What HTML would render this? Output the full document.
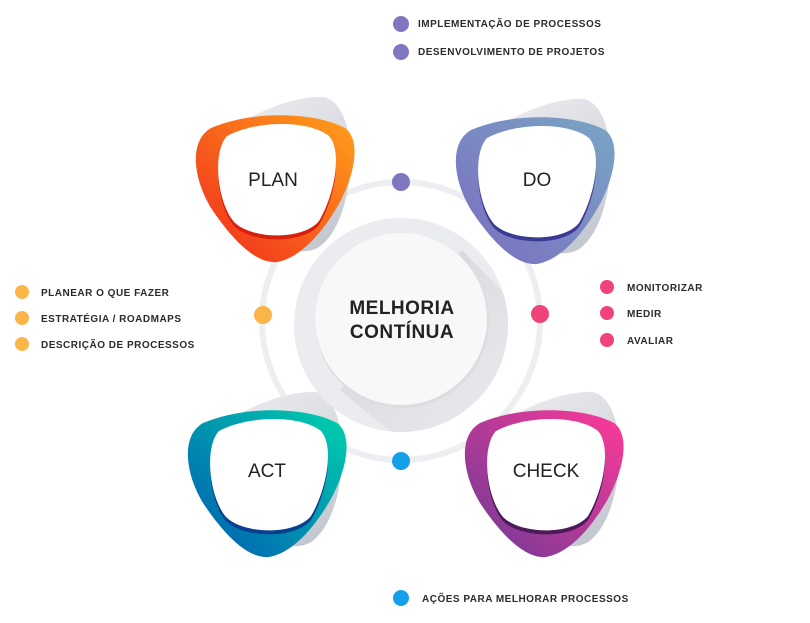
<!DOCTYPE html>
<html><head><meta charset="utf-8"><style>
html,body{margin:0;padding:0;background:#fff;}
svg text{font-family:"Liberation Sans",Arial,sans-serif;}
.l{font-size:10px;font-weight:bold;fill:#2b2b2b;letter-spacing:0.5px;}
.t{font-size:19px;fill:#222;}
</style></head><body>
<svg width="810" height="618" viewBox="0 0 810 618" xmlns="http://www.w3.org/2000/svg">
<defs>
<path id="blob" d="M18,18 C60,0 122,2 152,18 C168,30 162,62 148,90 C132,120 108,148 84,152 C62,154 38,128 18,98 C2,72 -6,32 18,18 Z"/>
<path id="inner" d="M14,14 C44,-2 96,-2 116,14 C130,30 121,74 106,99 C91,118 39,118 21,100 C4,80 -1,30 14,14 Z"/>
<linearGradient id="gPlan" x1="1" y1="0" x2="0" y2="1"><stop offset="0" stop-color="#ffa11a"/><stop offset="1" stop-color="#f0281c"/></linearGradient>
<linearGradient id="gDo" x1="1" y1="0" x2="0" y2="1"><stop offset="0" stop-color="#79a6c4"/><stop offset="1" stop-color="#7a6cc0"/></linearGradient>
<linearGradient id="gAct" x1="1" y1="0" x2="0" y2="1"><stop offset="0" stop-color="#00d2ae"/><stop offset="1" stop-color="#0057b0"/></linearGradient>
<linearGradient id="gCheck" x1="1" y1="0" x2="0" y2="1"><stop offset="0" stop-color="#ff3a98"/><stop offset="1" stop-color="#6a3a96"/></linearGradient>
<linearGradient id="gGray" x1="0" y1="0" x2="0" y2="1"><stop offset="0" stop-color="#e6e7eb"/><stop offset="1" stop-color="#c3c7d0"/></linearGradient>
<linearGradient id="gLong" x1="0" y1="0" x2="1" y2="1"><stop offset="0" stop-color="#c4c5c8"/><stop offset="1" stop-color="#ebecef" stop-opacity="0"/></linearGradient>
<clipPath id="disk"><circle cx="401" cy="325" r="107"/></clipPath>
</defs>

<circle cx="401" cy="321" r="139" fill="none" stroke="#eceef1" stroke-width="6"/>

<g transform="translate(193,110)"><use href="#blob" fill="url(#gGray)" transform="translate(10,-6) rotate(-25 80 76)"/></g>
<g transform="translate(453,112)"><use href="#blob" fill="url(#gGray)" transform="translate(10,-6) rotate(-25 80 76)"/></g>
<g transform="translate(185,405)"><use href="#blob" fill="url(#gGray)" transform="translate(10,-6) rotate(-25 80 76)"/></g>
<g transform="translate(462,405)"><use href="#blob" fill="url(#gGray)" transform="translate(10,-6) rotate(-25 80 76)"/></g>

<circle cx="401" cy="325" r="107" fill="#ebecef"/>
<g clip-path="url(#disk)">
<polygon points="340,390 462,250 580,370 460,490" fill="url(#gLong)" opacity="0.8"/>
</g>
<circle cx="402" cy="321" r="87" fill="#dcdde0"/>
<circle cx="401" cy="319" r="86" fill="#f8f8f8"/>
<text x="402" y="314" text-anchor="middle" font-size="19" font-weight="bold" fill="#222" letter-spacing="0.5">MELHORIA</text>
<text x="402" y="338" text-anchor="middle" font-size="19" font-weight="bold" fill="#222" letter-spacing="0.5">CONTÍNUA</text>

<g transform="translate(193,110)">
<use href="#blob" fill="url(#gPlan)"/>
<use href="#inner" fill="#d8200f" transform="translate(20,16)"/>
<use href="#inner" fill="#fff" transform="translate(20,12)"/>
<text class="t" x="80" y="76" text-anchor="middle">PLAN</text>
</g>
<g transform="translate(453,112)">
<use href="#blob" fill="url(#gDo)"/>
<use href="#inner" fill="#3a3a94" transform="translate(20,16)"/>
<use href="#inner" fill="#fff" transform="translate(20,12)"/>
<text class="t" x="84" y="74" text-anchor="middle">DO</text>
</g>
<g transform="translate(185,405)">
<use href="#blob" fill="url(#gAct)"/>
<use href="#inner" fill="#0a3e8e" transform="translate(20,16)"/>
<use href="#inner" fill="#fff" transform="translate(20,12)"/>
<text class="t" x="82" y="72" text-anchor="middle">ACT</text>
</g>
<g transform="translate(462,405)">
<use href="#blob" fill="url(#gCheck)"/>
<use href="#inner" fill="#4a1a5a" transform="translate(20,16)"/>
<use href="#inner" fill="#fff" transform="translate(20,12)"/>
<text class="t" x="84" y="72" text-anchor="middle">CHECK</text>
</g>

<circle cx="401" cy="182" r="9" fill="#7f78c0"/>
<circle cx="263" cy="315" r="9" fill="#fbb549"/>
<circle cx="540" cy="314" r="9" fill="#f0437a"/>
<circle cx="401" cy="461" r="9" fill="#14a0e8"/>

<circle cx="401" cy="24" r="8" fill="#7f78c0"/>
<text class="l" x="418" y="27">IMPLEMENTAÇÃO DE PROCESSOS</text>
<circle cx="401" cy="52" r="8" fill="#7f78c0"/>
<text class="l" x="418" y="55">DESENVOLVIMENTO DE PROJETOS</text>

<circle cx="22" cy="292" r="7" fill="#fbb549"/>
<text class="l" x="41" y="296">PLANEAR O QUE FAZER</text>
<circle cx="22" cy="318" r="7" fill="#fbb549"/>
<text class="l" x="41" y="322">ESTRATÉGIA / ROADMAPS</text>
<circle cx="22" cy="344" r="7" fill="#fbb549"/>
<text class="l" x="41" y="348">DESCRIÇÃO DE PROCESSOS</text>

<circle cx="607" cy="287" r="7" fill="#f0437a"/>
<text class="l" x="627" y="291">MONITORIZAR</text>
<circle cx="607" cy="313" r="7" fill="#f0437a"/>
<text class="l" x="627" y="317">MEDIR</text>
<circle cx="607" cy="340" r="7" fill="#f0437a"/>
<text class="l" x="627" y="344">AVALIAR</text>

<circle cx="401" cy="598" r="8" fill="#14a0e8"/>
<text class="l" x="422" y="602">AÇÕES PARA MELHORAR PROCESSOS</text>
</svg>
</body></html>
